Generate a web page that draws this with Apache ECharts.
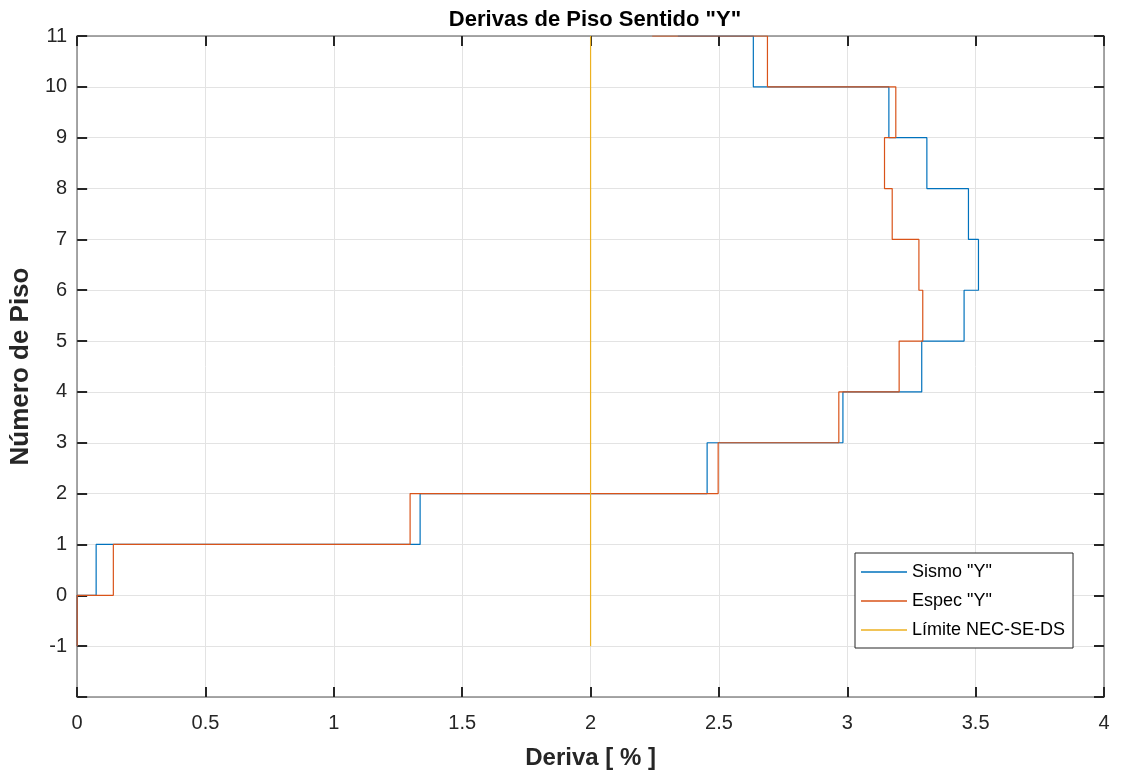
<!DOCTYPE html>
<html>
<head>
<meta charset="utf-8">
<script src="https://cdn.jsdelivr.net/npm/echarts@6/dist/echarts.min.js"></script>
<style>
html,body{margin:0;padding:0;background:#fff;}
#chart{width:1137px;height:776px;}
</style>
</head>
<body>
<div id="chart"></div>
<script>
// Floors (story levels) from -1 to 11
const floors = [-1, 0, 1, 2, 3, 4, 5, 6, 7, 8, 9, 10, 11];
// Story drift [%] for each segment (vertical-first stairs)
const sismoY = [0, 0.074, 1.336, 2.454, 2.983, 3.290, 3.455, 3.511, 3.472, 3.310, 3.162, 2.634, 2.34];
const especY = [0, 0.141, 1.297, 2.497, 2.967, 3.202, 3.294, 3.279, 3.175, 3.145, 3.189, 2.689, 2.24];
const limiteX = [2, 2];
const limiteY = [-1, 11];
const xTicks = [0, 0.5, 1, 1.5, 2, 2.5, 3, 3.5, 4];
const yTicks = [-1, 0, 1, 2, 3, 4, 5, 6, 7, 8, 9, 10, 11];

const pair = (xs, ys) => xs.map((x, i) => [x, ys[i]]);

const ARIAL = 'Arial, "Liberation Sans", Helvetica, sans-serif';
const dark = '#262626';
const axisLineColor = '#8a8a8a';

const chart = echarts.init(document.getElementById('chart'), null, {renderer: 'canvas'});

const tickCommon = {show: true, inside: true, length: 10, lineStyle: {color: dark, width: 2}};
const lineCommon = {show: true, onZero: false, lineStyle: {color: axisLineColor, width: 1.5}};

chart.setOption({
  animation: false,
  backgroundColor: '#ffffff',
  title: {
    text: 'Derivas de Piso Sentido "Y"',
    left: 590,
    textAlign: 'center',
    top: 4,
    textStyle: {fontFamily: ARIAL, fontWeight: 'bold', fontSize: 22, color: '#000'}
  },
  grid: {left: 76, right: 33, top: 36, bottom: 79, containLabel: false},
  legend: {
    orient: 'vertical',
    left: 855,
    top: 553,
    padding: [10, 8, 9, 6],
    itemGap: 11,
    itemWidth: 46,
    itemHeight: 1.5,
    icon: 'rect',
    backgroundColor: '#fff',
    borderColor: '#262626',
    borderWidth: 1,
    borderRadius: 0,
    textStyle: {fontFamily: ARIAL, fontSize: 18, color: '#000'},
    data: ['Sismo "Y"', 'Espec "Y"', 'Límite NEC-SE-DS']
  },
  xAxis: [{
    type: 'value', min: 0, max: 4, interval: 0.5, position: 'bottom',
    name: 'Deriva [ % ]', nameLocation: 'middle', nameGap: 49,
    nameTextStyle: {fontFamily: ARIAL, fontWeight: 'bold', fontSize: 24, color: dark},
    axisLine: lineCommon,
    axisTick: tickCommon,
    axisLabel: {fontFamily: ARIAL, fontSize: 20, color: dark, margin: 16,
      formatter: v => xTicks.includes(v) ? String(v) : ''},
    splitLine: {show: true, lineStyle: {color: '#e3e3e3', width: 1}}
  }, {
    type: 'value', min: 0, max: 4, interval: 0.5, position: 'top',
    axisLine: lineCommon,
    axisTick: tickCommon,
    axisLabel: {show: false},
    splitLine: {show: false}
  }],
  yAxis: [{
    type: 'value', min: -2, max: 11, interval: 1, position: 'left',
    name: 'Número de Piso', nameLocation: 'middle', nameGap: 32,
    nameTextStyle: {fontFamily: ARIAL, fontWeight: 'bold', fontSize: 26, color: dark},
    axisLine: lineCommon,
    axisTick: tickCommon,
    axisLabel: {fontFamily: ARIAL, fontSize: 20, color: dark, margin: 10,
      formatter: v => yTicks.includes(v) ? String(v) : ''},
    splitLine: {show: true, lineStyle: {color: '#e3e3e3', width: 1}}
  }, {
    type: 'value', min: -2, max: 11, interval: 1, position: 'right',
    axisLine: lineCommon,
    axisTick: tickCommon,
    axisLabel: {show: false},
    splitLine: {show: false}
  }],
  series: [{
    name: 'Sismo "Y"', type: 'line', step: 'start', showSymbol: false, symbol: 'none',
    xAxisIndex: 0, yAxisIndex: 0,
    data: pair(sismoY, floors),
    lineStyle: {color: '#0072BD', width: 1.2}, itemStyle: {color: '#0072BD'}
  }, {
    name: 'Espec "Y"', type: 'line', step: 'start', showSymbol: false, symbol: 'none',
    xAxisIndex: 0, yAxisIndex: 0,
    data: pair(especY, floors),
    lineStyle: {color: '#D95319', width: 1.2}, itemStyle: {color: '#D95319'}
  }, {
    name: 'Límite NEC-SE-DS', type: 'line', showSymbol: false, symbol: 'none',
    xAxisIndex: 0, yAxisIndex: 0,
    data: pair(limiteX, limiteY),
    lineStyle: {color: '#EDB120', width: 1.2}, itemStyle: {color: '#EDB120'}
  }]
});
</script>
</body>
</html>
